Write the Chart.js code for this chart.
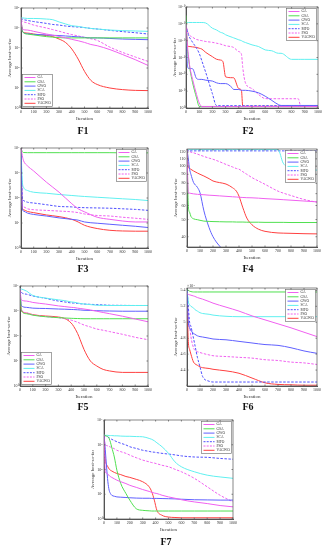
<!DOCTYPE html>
<html>
<head>
<meta charset="utf-8">
<script src="https://cdn.jsdelivr.net/npm/chart.js@4.4.1/dist/chart.umd.min.js"></script>
<style>
  body { margin: 0; background: #fff; width: 329px; height: 550px; position: relative; overflow: hidden; }
  canvas { position: absolute; }
  .lbl { position: absolute; font-family: 'Liberation Serif', serif; font-weight: bold; font-size: 10px; transform: translate(-50%, -50%); color: #111; }
</style>
</head>
<body>
<canvas id="c1"></canvas><canvas id="c2"></canvas><canvas id="c3"></canvas><canvas id="c4"></canvas>
<canvas id="c5"></canvas><canvas id="c6"></canvas><canvas id="c7"></canvas>
<div class="lbl" style="left:83px;top:130px">F1</div>
<div class="lbl" style="left:248px;top:130px">F2</div>
<div class="lbl" style="left:83px;top:268px">F3</div>
<div class="lbl" style="left:248px;top:268px">F4</div>
<div class="lbl" style="left:83px;top:406px">F5</div>
<div class="lbl" style="left:248px;top:406px">F6</div>
<div class="lbl" style="left:166px;top:541px">F7</div>
<script>
// algorithms, in legend order
const names = ['GA', 'GSA', 'GWO', 'SCA', 'MFO', 'PSO', 'VAGWO'];
const colors = ['#f060f0', '#50e050', '#6060ff', '#60f0f0', '#5050ff', '#f060f0', '#ff4040'];
const dashed = [false, false, false, false, true, true, false];
const xTicks = [0, 100, 200, 300, 400, 500, 600, 700, 800, 900, 1000];

// F1
const f1Iter = [0, 10, 50, 100, 200, 250, 300, 350, 400, 450, 500, 550, 600, 700, 800, 900, 1000];
const f1GA = [3.2e4, 8.9e3, 7.9e3, 6.8e3, 5.0e3, 4.4e3, 3.8e3, 3.2e3, 2.7e3, 2.3e3, 1.9e3, 1.5e3, 1.3e3, 830, 470, 260, 135];
const f1GSA = [3.2e4, 6.8e3, 5.0e3, 4.5e3, 3.7e3, 3.5e3, 3.3e3, 3.2e3, 3.2e3, 3.2e3, 3.2e3, 3.2e3, 3.2e3, 3.2e3, 3.2e3, 3.2e3, 3.2e3];
const f1GWO = [3.2e4, 6.8e3, 5.2e3, 4.8e3, 4.5e3, 4.3e3, 4.2e3, 4.0e3, 3.8e3, 3.6e3, 3.4e3, 3.2e3, 3.2e3, 3.0e3, 2.8e3, 2.7e3, 2.6e3];
const f1SCA = [3.2e4, 3.2e4, 3.0e4, 3.0e4, 2.8e4, 2.6e4, 2.0e4, 1.6e4, 1.3e4, 1.2e4, 1.05e4, 9.5e3, 8.9e3, 7.9e3, 7.4e3, 7.1e3, 6.8e3];
const f1MFO = [3.2e4, 2.8e4, 2.4e4, 2.1e4, 1.7e4, 1.5e4, 1.4e4, 1.26e4, 1.17e4, 1.12e4, 1.05e4, 9.5e3, 8.9e3, 7.6e3, 6.6e3, 5.8e3, 5.0e3];
const f1PSO = [2.6e4, 2.2e4, 1.8e4, 1.4e4, 1.0e4, 8.3e3, 6.9e3, 5.6e3, 4.7e3, 4.0e3, 3.4e3, 2.9e3, 2.4e3, 1.1e3, 600, 355, 215];
const f1VAGWO = [3.2e4, 6.8e3, 5.6e3, 5.0e3, 4.2e3, 3.7e3, 2.8e3, 1.9e3, 890, 280, 68, 24, 15, 10, 8.3, 7.6, 7.4];
const f1YTicks = [1, 1e1, 1e2, 1e3, 1e4, 1e5];

// F2
const f2Iter = [0, 10, 20, 30, 50, 80, 100, 120, 150, 200, 230, 260, 280, 300, 350, 360, 400, 420, 430, 450, 500, 550, 600, 650, 700, 720, 800, 850, 870, 900, 1000];
const f2GA = [1e50, 1e38, 1e30, 1e24, 1e17, 1e8, 1e3, 8, 8, 8, 8, 8, 8, 8, 8, 8, 8, 8, 8, 8, 8, 8, 8, 8, 8, 8, 8, 8, 8, 8, 8];
const f2GSA = [1e55, 1e36, 1e29, 1e23, 1e15, 1e6, 10, 8, 8, 8, 8, 8, 8, 8, 8, 8, 8, 8, 8, 8, 8, 8, 8, 8, 8, 8, 8, 8, 8, 8, 8];
const f2GWO = [1e50, 1e26, 3.2e23, 3.2e23, 2e23, 3.2e17, 1e17, 1e17, 3.2e16, 1e16, 1e15, 3.2e14, 3.2e14, 3.2e14, 1e12, 1e11, 1e11, 3.2e10, 3.2e10, 3.2e10, 1e10, 1e9, 1e7, 3.2e4, 100, 32, 32, 32, 32, 32, 32];
const f2SCA = [6.3e50, 6.3e50, 6.3e50, 6.3e50, 6.3e50, 6.3e50, 6.3e50, 6e50, 3e50, 2.5e47, 2.5e46, 1e45, 3.2e44, 3.2e43, 1e42, 5e41, 3.2e40, 1e40, 3.2e39, 7.9e38, 3.2e37, 3.2e36, 3.2e34, 1e34, 3.2e32, 3.2e32, 7.9e28, 7.9e28, 7.9e28, 7.9e28, 7.9e28];
const f2MFO = [1e49, 1e46, 1e43, 3.2e41, 1e39, 3.2e35, 3.2e32, 1e28, 1e21, 3.2e8, 32, 25, 25, 25, 25, 25, 25, 25, 25, 25, 25, 25, 25, 25, 25, 25, 25, 25, 25, 25, 25];
const f2PSO = [1e50, 1e46, 1e44, 1e43, 1e42, 5e40, 2e40, 1e40, 3.2e39, 1e39, 3.2e38, 1e38, 3.2e37, 1e37, 2e36, 1e36, 3.2e33, 1e32, 1e24, 1e15, 3.2e11, 1e8, 4e5, 3.2e5, 3.2e5, 3.2e5, 3.2e5, 3.2e5, 12, 12, 12];
const f2VAGWO = [1e48, 1e38, 3.2e36, 3.2e36, 2e36, 1e36, 3.2e35, 1e35, 1e33, 3.2e30, 1e29, 3.2e28, 3.2e27, 3.2e18, 1e18, 1e18, 3.2e11, 3.2e10, 10, 10, 10, 10, 10, 10, 10, 10, 10, 10, 10, 10, 10];
const f2YTicks = [1, 1e10, 1e20, 1e30, 1e40, 1e50, 1e60];

// F3
const f3Iter = [0, 10, 20, 50, 100, 200, 300, 400, 450, 500, 600, 700, 800, 900, 1000];
const f3GA = [1e4, 5e3, 3.1e3, 1.95e3, 1.2e3, 430, 170, 59, 37, 28, 17, 14, 12, 11, 11];
const f3GSA = [1e4, 7.1e3, 6.6e3, 6.5e3, 6.5e3, 6.5e3, 6.5e3, 6.5e3, 6.5e3, 6.5e3, 6.5e3, 6.5e3, 6.4e3, 6.4e3, 6.4e3];
const f3GWO = [1e4, 37, 30, 25, 22, 19, 16, 14, 13, 11, 9.8, 8.9, 8.1, 7.4, 6.6];
const f3SCA = [1e4, 490, 270, 200, 170, 155, 138, 126, 120, 115, 107, 100, 93, 87, 79];
const f3MFO = [1e4, 107, 79, 68, 63, 54, 46, 44, 42, 41, 40, 39, 37, 35, 32];
const f3PSO = [1e4, 50, 44, 37, 34, 32, 30, 28, 26, 23, 20, 19, 17, 15.5, 14];
const f3VAGWO = [1e4, 40, 34, 29, 26, 21, 18, 14, 11, 8.1, 6.0, 5.1, 4.8, 4.7, 4.7];
const f3YTicks = [1, 1e1, 1e2, 1e3, 1e4];

// F4
const f4Iter = [0, 10, 20, 30, 50, 80, 100, 130, 170, 200, 250, 300, 350, 380, 400, 430, 460, 500, 550, 600, 700, 740, 800, 900, 1000];
const f4GA = [125, 70.8, 70.5, 70.2, 69.8, 69.4, 69.2, 69, 68.6, 68.4, 68, 67.6, 67.2, 67, 66.8, 66.6, 66.4, 66.3, 66, 65.6, 65, 64.7, 64.3, 63.6, 62.9];
const f4GSA = [125, 59.4, 55, 52.1, 50.5, 49.9, 49.5, 49, 48.8, 48.7, 48.6, 48.5, 48.5, 48.4, 48.4, 48.4, 48.3, 48.3, 48.3, 48.2, 48.2, 48.2, 48.1, 48.1, 48.1];
const f4GWO = [125, 110, 96, 90, 81, 76, 70.8, 56, 45, 40, 35.5, 33, 33, 33, 33, 33, 33, 33, 33, 33, 33, 33, 33, 33, 33];
const f4SCA = [124, 124, 124, 124, 124, 124, 124, 124, 124, 124, 124, 124, 124, 124, 124, 124, 124, 124, 124, 124, 124, 104, 98, 96, 95];
const f4MFO = [125, 122, 122, 122, 122, 122, 122, 122, 122, 122, 122, 122, 122, 122, 122, 122, 122, 122, 122, 122, 122, 122, 122, 122, 122];
const f4PSO = [125, 122, 121, 120, 119, 117, 115.5, 113.5, 111, 109.4, 106, 102.3, 99, 97, 96.2, 93, 90, 86.2, 82.5, 79, 72.3, 70.5, 68.3, 64.9, 62.6];
const f4VAGWO = [125, 98.3, 97, 96, 94, 91.5, 90, 88, 85, 82.5, 80.8, 79.3, 75.6, 72.3, 67.7, 58.2, 51, 46.7, 44.1, 42.9, 42, 41.9, 41.8, 41.6, 41.5];
const f4YTicks = [40, 50, 60, 70, 80, 90, 100, 110, 120];

// F5
const f5Iter = [0, 10, 50, 100, 200, 300, 350, 400, 420, 450, 470, 500, 550, 600, 650, 700, 800, 900, 1000];
const f5GA = [7.9e3, 2.8e3, 2.5e3, 2.2e3, 1.9e3, 1.6e3, 1.5e3, 1.4e3, 1.38e3, 1.3e3, 1.26e3, 1.2e3, 1.1e3, 980, 870, 780, 620, 480, 370];
const f5GSA = [7.9e3, 1.05e3, 780, 680, 590, 540, 525, 510, 505, 500, 495, 490, 490, 490, 490, 490, 490, 490, 490];
const f5GWO = [7.9e3, 1.66e3, 1.4e3, 1.3e3, 1.26e3, 1.2e3, 1.18e3, 1.15e3, 1.14e3, 1.12e3, 1.1e3, 1.07e3, 1.05e3, 1.03e3, 1.01e3, 1e3, 980, 980, 980];
const f5SCA = [7.9e3, 7.6e3, 6.3e3, 4.2e3, 3.3e3, 2.8e3, 2.6e3, 2.3e3, 2.25e3, 2.1e3, 2.0e3, 1.9e3, 1.8e3, 1.7e3, 1.68e3, 1.66e3, 1.66e3, 1.66e3, 1.66e3];
const f5MFO = [7.9e3, 5.6e3, 4.7e3, 4e3, 3.2e3, 2.5e3, 2.3e3, 2.1e3, 2.08e3, 2e3, 1.95e3, 1.9e3, 1.85e3, 1.8e3, 1.75e3, 1.7e3, 1.68e3, 1.66e3, 1.66e3];
const f5PSO = [7.9e3, 1.2e3, 850, 710, 600, 540, 490, 430, 400, 355, 320, 275, 230, 190, 170, 150, 117, 89, 71];
const f5VAGWO = [7.9e3, 1.05e3, 830, 710, 630, 575, 500, 330, 240, 126, 71, 29, 10, 6.3, 4.6, 4.0, 3.5, 3.5, 3.5];
const f5YTicks = [1, 1e1, 1e2, 1e3, 1e4];

// F6 (values x10^4)
const f6Iter = [0, 10, 20, 30, 50, 60, 80, 100, 120, 170, 200, 300, 400, 500, 600, 700, 800, 900, 1000];
const f6GA = [5.36, 5.35, 5.345, 5.34, 5.33, 5.325, 5.31, 5.3, 5.29, 5.26, 5.24, 5.19, 5.14, 5.08, 5.03, 4.98, 4.93, 4.875, 4.82];
const f6GSA = [5.42, 5.4, 5.39, 5.385, 5.38, 5.38, 5.38, 5.38, 5.38, 5.38, 5.38, 5.38, 5.38, 5.38, 5.38, 5.38, 5.38, 5.38, 5.38];
const f6GWO = [5.42, 5.0, 4.93, 4.9, 4.86, 4.85, 4.83, 4.82, 4.815, 4.8, 4.79, 4.78, 4.76, 4.74, 4.72, 4.71, 4.68, 4.64, 4.61];
const f6SCA = [5.42, 5.26, 5.22, 5.2, 5.18, 5.16, 5.14, 5.12, 5.11, 5.1, 5.09, 5.075, 5.07, 5.07, 5.07, 5.07, 5.07, 5.07, 5.07];
const f6MFO = [5.42, 5.2, 5.0, 4.95, 4.8, 4.72, 4.56, 4.44, 4.32, 4.26, 4.25, 4.25, 4.25, 4.25, 4.25, 4.25, 4.25, 4.25, 4.25];
const f6PSO = [5.42, 5.1, 4.96, 4.82, 4.68, 4.65, 4.63, 4.62, 4.61, 4.59, 4.58, 4.57, 4.56, 4.55, 4.53, 4.52, 4.5, 4.49, 4.47];
const f6VAGWO = [5.42, 4.76, 4.66, 4.6, 4.5, 4.48, 4.46, 4.44, 4.43, 4.42, 4.41, 4.39, 4.36, 4.3, 4.24, 4.22, 4.215, 4.21, 4.21];
const f6YTicks = [4.4, 4.6, 4.8, 5, 5.2, 5.4];

// F7
const f7Iter = [0, 10, 20, 30, 40, 50, 60, 80, 100, 130, 170, 200, 250, 300, 350, 370, 390, 410, 450, 500, 550, 600, 700, 800, 900, 1000];
const f7GA = [2.45e3, 81, 71, 63, 58, 51, 48, 42, 37, 32, 27, 23, 19, 15.5, 13, 12, 11.2, 10.7, 9.1, 7.8, 6.9, 6.0, 4.9, 4.2, 3.5, 3.1];
const f7GSA = [2.45e3, 2.35e3, 2.24e3, 2.14e3, 1.78e3, 1.26e3, 790, 320, 93, 27, 10.7, 5.8, 2.6, 2.24, 2.14, 2.1, 2.1, 2.1, 2.1, 2.1, 2.1, 2.1, 2.1, 2.1, 2.1, 2.1];
const f7GWO = [2.45e3, 630, 126, 32, 14.5, 10.7, 9.1, 8.3, 7.8, 7.6, 7.4, 7.2, 7.0, 6.9, 6.9, 6.8, 6.8, 6.8, 6.7, 6.6, 6.5, 6.3, 6.0, 5.9, 5.8, 5.8];
const f7SCA = [2.45e3, 2.4e3, 2.4e3, 2.4e3, 2.35e3, 2.35e3, 2.35e3, 2.3e3, 2.3e3, 2.24e3, 2.2e3, 2.2e3, 2.14e3, 2.1e3, 1.8e3, 1.66e3, 1.45e3, 1.2e3, 830, 450, 204, 129, 81, 59, 50, 44];
const f7MFO = [2.45e3, 2.35e3, 2.2e3, 2.05e3, 1.9e3, 1.78e3, 1.66e3, 1.48e3, 1.32e3, 1.15e3, 980, 830, 710, 600, 540, 510, 500, 480, 450, 420, 390, 355, 320, 310, 280, 260];
const f7PSO = [2e3, 980, 930, 890, 850, 810, 780, 690, 600, 525, 450, 380, 300, 240, 204, 190, 182, 170, 148, 129, 102, 81, 44, 20, 9.1, 4.9];
const f7VAGWO = [2.45e3, 240, 158, 129, 105, 93, 87, 76, 69, 62, 52, 48, 40, 32, 20, 12.6, 5.8, 2.24, 1.41, 1.2, 1.15, 1.12, 1.12, 1.12, 1.12, 1.12];
const f7YTicks = [1, 1e1, 1e2, 1e3, 1e4];

const FONT = "'Liberation Serif', serif";
const SUP = { '0': '⁰', '1': '¹', '2': '²', '3': '³', '4': '⁴', '5': '⁵', '6': '⁶', '7': '⁷', '8': '⁸', '9': '⁹', '-': '⁻' };
const pow10 = v => '10' + String(Math.round(Math.log10(v))).split('').map(c => SUP[c]).join('');

// legend box drawn inside the plot area
const boxLegend = {
    id: 'boxLegend',
    afterDatasetsDraw(chart, args, opts) {
        const { ctx, chartArea: a } = chart;
        const w = 30, h = 32, row = 4.3;
        const x = opts.pos === 'bl' ? a.left + 1.5 : a.right - w - 1.5;
        const y = opts.pos === 'bl' ? a.bottom - h - 1.5 : a.top + 1.5;
        ctx.save();
        ctx.fillStyle = '#fff';
        ctx.fillRect(x, y, w, h);
        ctx.strokeStyle = '#666';
        ctx.lineWidth = 0.6;
        ctx.strokeRect(x, y, w, h);
        ctx.font = '3.6px ' + FONT;
        ctx.textBaseline = 'middle';
        chart.data.datasets.forEach((ds, i) => {
            const ly = y + 3 + i * row;
            ctx.beginPath();
            ctx.setLineDash(dashed[i] ? [2, 1.2] : []);
            ctx.strokeStyle = ds.borderColor;
            ctx.lineWidth = 1;
            ctx.moveTo(x + 2, ly);
            ctx.lineTo(x + 13, ly);
            ctx.stroke();
            ctx.fillStyle = '#333';
            ctx.fillText(ds.label, x + 15, ly);
        });
        ctx.restore();
    }
};

// box frame with inward ticks, axis titles and optional exponent note
const frame = {
    id: 'frame',
    afterDraw(chart, args, opts) {
        const { ctx, chartArea: a, scales } = chart;
        ctx.save();
        ctx.strokeStyle = '#555';
        ctx.lineWidth = 0.7;
        ctx.strokeRect(a.left, a.top, a.right - a.left, a.bottom - a.top);
        ctx.beginPath();
        scales.x.ticks.forEach(t => {
            const p = scales.x.getPixelForValue(t.value);
            ctx.moveTo(p, a.bottom); ctx.lineTo(p, a.bottom - 1.5);
            ctx.moveTo(p, a.top); ctx.lineTo(p, a.top + 1.5);
        });
        scales.y.ticks.forEach(t => {
            const p = scales.y.getPixelForValue(t.value);
            ctx.moveTo(a.left, p); ctx.lineTo(a.left + 1.5, p);
            ctx.moveTo(a.right, p); ctx.lineTo(a.right - 1.5, p);
        });
        ctx.stroke();
        ctx.fillStyle = '#333';
        ctx.font = '5px ' + FONT;
        ctx.textAlign = 'center';
        ctx.textBaseline = 'middle';
        ctx.fillText('Iteration', (a.left + a.right) / 2, a.bottom + 10.5);
        ctx.save();
        ctx.translate(a.left - 11.5, (a.top + a.bottom) / 2);
        ctx.rotate(-Math.PI / 2);
        ctx.fillText('Average best-so-far', 0, 0);
        ctx.restore();
        if (opts.note) {
            ctx.font = '4px ' + FONT;
            ctx.textAlign = 'left';
            ctx.textBaseline = 'bottom';
            ctx.fillText(opts.note, a.left, a.top - 0.5);
        }
        ctx.restore();
    }
};

function makePanel(id, box, iters, series, yCfg, legendPos, note) {
    const [L, T, R, B] = box;
    const cv = document.getElementById(id);
    cv.width = R - L + 28;
    cv.height = B - T + 22;
    cv.style.left = (L - 20) + 'px';
    cv.style.top = (T - 4) + 'px';
    new Chart(cv, {
        type: 'line',
        data: {
            datasets: series.map((vals, i) => ({
                label: names[i],
                data: iters.map((x, k) => ({ x: x, y: vals[k] })),
                borderColor: colors[i],
                borderWidth: 1,
                borderDash: dashed[i] ? [2.5, 1.5] : [],
                pointRadius: 0,
                cubicInterpolationMode: 'monotone',
                fill: false
            }))
        },
        options: {
            responsive: false,
            animation: false,
            events: [],
            layout: { padding: { top: 4, right: 8, left: 0, bottom: 0 } },
            plugins: {
                legend: { display: false },
                tooltip: { enabled: false },
                boxLegend: { pos: legendPos },
                frame: { note: note }
            },
            scales: {
                x: {
                    type: 'linear', min: 0, max: 1000,
                    afterFit: s => { s.height = 18; },
                    afterBuildTicks: s => { s.ticks = xTicks.map(v => ({ value: v })); },
                    grid: { display: false, drawTicks: false },
                    border: { color: '#555' },
                    ticks: { font: { size: 4, family: FONT }, color: '#333', padding: 2, maxRotation: 0, autoSkip: false, callback: v => String(v) }
                },
                y: {
                    type: yCfg.type, min: yCfg.min, max: yCfg.max,
                    afterFit: s => { s.width = 20; },
                    afterBuildTicks: s => { s.ticks = yCfg.ticks.map(v => ({ value: v })); },
                    grid: { display: false, drawTicks: false },
                    border: { color: '#555' },
                    ticks: { font: { size: 4, family: FONT }, color: '#333', padding: 1.5, autoSkip: false, callback: yCfg.label }
                }
            }
        },
        plugins: [boxLegend, frame]
    });
}

const logCfg = (min, max, ticks) => ({ type: 'logarithmic', min: min, max: max, ticks: ticks, label: v => pow10(v) });

makePanel('c1', [21, 8, 148, 108], f1Iter, [f1GA, f1GSA, f1GWO, f1SCA, f1MFO, f1PSO, f1VAGWO], logCfg(1, 1e5, f1YTicks), 'bl');
makePanel('c2', [186, 7, 318, 108], f2Iter, [f2GA, f2GSA, f2GWO, f2SCA, f2MFO, f2PSO, f2VAGWO], logCfg(1, 1e60, f2YTicks), 'tr');
makePanel('c3', [21, 148, 148, 248], f3Iter, [f3GA, f3GSA, f3GWO, f3SCA, f3MFO, f3PSO, f3VAGWO], logCfg(1, 1e4, f3YTicks), 'tr');
makePanel('c4', [187, 149, 317, 247], f4Iter, [f4GA, f4GSA, f4GWO, f4SCA, f4MFO, f4PSO, f4VAGWO],
    { type: 'logarithmic', min: 35, max: 125, ticks: f4YTicks, label: v => String(v) }, 'tr');
makePanel('c5', [20, 286, 148, 386], f5Iter, [f5GA, f5GSA, f5GWO, f5SCA, f5MFO, f5PSO, f5VAGWO], logCfg(1, 1e4, f5YTicks), 'bl');
makePanel('c6', [187, 288, 317, 386], f6Iter, [f6GA, f6GSA, f6GWO, f6SCA, f6MFO, f6PSO, f6VAGWO],
    { type: 'linear', min: 4.2, max: 5.43, ticks: f6YTicks, label: v => String(v) }, 'tr', '×10⁴');
makePanel('c7', [104, 420, 233, 519], f7Iter, [f7GA, f7GSA, f7GWO, f7SCA, f7MFO, f7PSO, f7VAGWO], logCfg(1, 1e4, f7YTicks), 'tr');
</script>
</body>
</html>
